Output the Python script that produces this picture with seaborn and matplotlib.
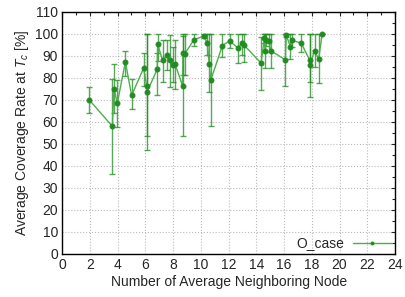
import matplotlib
matplotlib.use("Agg")
import matplotlib.pyplot as plt
from matplotlib.ticker import MultipleLocator
import seaborn as sns
import numpy as np
import pandas as pd

# neighbouring-node count, coverage rate and error bars (lower / upper)
neighbors = [1.96, 3.62, 3.74, 3.98, 4.56, 5.01, 5.87, 6.10, 6.12, 6.86,
             6.88, 7.24, 7.55, 7.77, 7.99, 8.15, 8.68, 8.71, 8.85, 9.50,
             10.20, 10.48, 10.60, 10.72, 11.55, 12.07, 12.70, 12.95, 13.09, 14.34,
             14.58, 14.63, 14.73, 14.90, 15.06, 16.09, 16.16, 16.45, 16.60, 17.24,
             17.84, 17.86, 18.20, 18.49, 18.75]
coverage = [70.0, 58.0, 75.0, 68.5, 87.3, 72.0, 84.4, 76.4, 73.6, 84.0,
            95.5, 88.0, 90.5, 88.0, 85.8, 86.2, 76.4, 91.5, 91.0, 97.3,
            99.0, 95.8, 86.4, 79.0, 94.7, 96.8, 93.5, 96.0, 95.1, 86.7,
            98.0, 92.3, 97.3, 96.8, 92.3, 88.2, 99.4, 94.2, 97.0, 95.8,
            88.2, 85.8, 92.4, 88.6, 100.0]
err_low = [6.0, 21.6, 11.0, 11.0, 6.3, 6.0, 8.0, 22.8, 26.3, 11.7,
           8.0, 9.7, 7.0, 12.0, 7.8, 11.3, 22.6, 10.0, 9.5, 2.8,
           1.0, 5.3, 13.0, 21.0, 5.3, 3.2, 6.7, 5.5, 8.0, 12.0,
           2.0, 8.0, 3.0, 5.0, 8.0, 11.8, 0.6, 5.7, 3.0, 4.2,
           10.0, 14.3, 7.3, 11.0, 0.0]
err_high = [6.0, 21.6, 11.4, 10.5, 5.1, 7.7, 6.8, 23.6, 26.4, 7.2,
            4.5, 9.3, 6.8, 11.4, 8.2, 11.1, 23.6, 7.5, 9.0, 2.7,
            1.0, 4.2, 13.6, 21.0, 5.3, 3.2, 6.5, 4.0, 4.9, 12.0,
            2.0, 7.7, 2.7, 3.2, 7.7, 11.8, 0.6, 5.8, 3.0, 4.2,
            11.8, 14.2, 7.6, 11.4, 0.0]

df = pd.DataFrame({"neighbors": neighbors, "coverage": coverage})

sns.set_style("white")
plt.rcParams["font.family"] = ["Liberation Sans", "DejaVu Sans"]
plt.rcParams["font.size"] = 10
plt.rcParams["mathtext.fontset"] = "custom"
plt.rcParams["mathtext.it"] = "Liberation Sans:italic"
plt.rcParams["mathtext.rm"] = "Liberation Sans"

fig = plt.figure(figsize=(4.06, 2.97), dpi=100)
ax = fig.add_axes([0.153, 0.145, 0.820, 0.815])

green = "#228b22"
ax.errorbar(neighbors, coverage, yerr=[err_low, err_high], fmt="none",
            ecolor=green, elinewidth=1.0, capsize=2, capthick=1.0, alpha=0.75, zorder=2)
sns.lineplot(data=df, x="neighbors", y="coverage", ax=ax, estimator=None, sort=True,
             color="#4caf4c", linewidth=1.0, marker="o", markersize=3.5,
             markerfacecolor=green, markeredgecolor=green, label="O_case", zorder=3)

ax.set_xlim(0, 24)
ax.set_ylim(0, 110)
ax.xaxis.set_major_locator(MultipleLocator(2))
ax.xaxis.set_minor_locator(MultipleLocator(1))
ax.yaxis.set_major_locator(MultipleLocator(10))
ax.yaxis.set_minor_locator(MultipleLocator(5))
ax.tick_params(which="both", direction="in", top=True, right=True, length=3, width=0.8)
ax.tick_params(which="minor", length=2)
ax.tick_params(labelsize=10, pad=3)
ax.grid(True, which="major", linestyle=":", color="#bbbbbb", linewidth=0.8)
for s in ax.spines.values():
    s.set_color("black")
    s.set_linewidth(1.0)

ax.set_xlabel("Number of Average Neighboring Node", fontsize=10, labelpad=2)
ax.set_ylabel("Average Coverage Rate at $T_c$ [%]", fontsize=10, labelpad=3)

ax.legend(loc="lower right", frameon=False, markerfirst=False, fontsize=10,
          handlelength=2.8, handletextpad=0.6, markerscale=0.6,
          borderpad=0.15, borderaxespad=0.1)

plt.savefig("out.png", dpi=100)
plt.close()
